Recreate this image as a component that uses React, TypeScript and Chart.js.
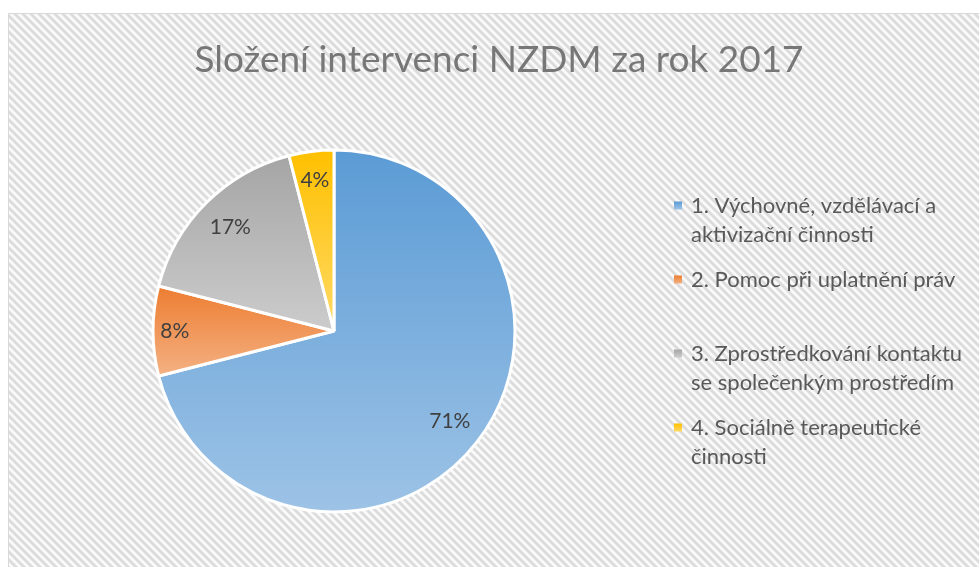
import React, { useEffect, useRef } from "react";
import { Chart, registerables } from "chart.js";

Chart.register(...registerables);

const TITLE = "Složení intervenci NZDM za rok 2017";
const categories: string[][] = [
  ["1. Výchovné, vzdělávací a", "aktivizační činnosti"],
  ["2. Pomoc při uplatnění práv"],
  ["3. Zprostředkování kontaktu", "se společenkým prostředím"],
  ["4. Sociálně terapeutické", "činnosti"],
];
const values: number[] = [71, 8, 17, 4];
const percentLabels: string[] = ["71%", "8%", "17%", "4%"];

const TOP_COLORS = ["#5b9bd5", "#ed7d31", "#a5a5a5", "#ffc000"];
const BOTTOM_COLORS = ["#9dc3e6", "#f4b183", "#cccccc", "#ffd966"];
const LABEL_RADIUS = [0.81, 0.88, 0.81, 0.84];
const FONT = "Lato, 'Open Sans', sans-serif";

function sliceGradient(c: any) {
  const chart = c.chart;
  const i = c.dataIndex;
  const area = chart.chartArea;
  if (!area || i === undefined) return TOP_COLORS[i ?? 0];
  const cx = (area.left + area.right) / 2;
  const cy = (area.top + area.bottom) / 2;
  const R = Math.min(area.width, area.height) / 2;
  const total = values.reduce((s, v) => s + v, 0);
  let a0 = -Math.PI / 2;
  for (let j = 0; j < i; j++) a0 += (values[j] / total) * Math.PI * 2;
  const a1 = a0 + (values[i] / total) * Math.PI * 2;
  let ymin = cy;
  let ymax = cy;
  for (let k = 0; k <= 90; k++) {
    const a = a0 + ((a1 - a0) * k) / 90;
    const y = cy + R * Math.sin(a);
    ymin = Math.min(ymin, y);
    ymax = Math.max(ymax, y);
  }
  const g = chart.ctx.createLinearGradient(0, ymin, 0, ymax);
  g.addColorStop(0, TOP_COLORS[i]);
  g.addColorStop(1, BOTTOM_COLORS[i]);
  return g;
}

function makeHatch(ctx: CanvasRenderingContext2D) {
  const c = document.createElement("canvas");
  c.width = 8;
  c.height = 8;
  const p = c.getContext("2d")!;
  const img = p.createImageData(8, 8);
  for (let y = 0; y < 8; y++) {
    for (let x = 0; x < 8; x++) {
      const d = (((x - y) % 8) + 8) % 8;
      const v = d < 3 ? 0xdc : d === 3 ? 0xea : d === 7 ? 0xea : 0xfa;
      const o = (y * 8 + x) * 4;
      img.data[o] = v;
      img.data[o + 1] = v;
      img.data[o + 2] = v;
      img.data[o + 3] = 255;
    }
  }
  p.putImageData(img, 0, 0);
  return ctx.createPattern(c, "repeat");
}

const backgroundPlugin = {
  id: "bgHatch",
  beforeDraw(chart: any) {
    const { ctx, width, height } = chart;
    ctx.save();
    ctx.fillStyle = "#ffffff";
    ctx.fillRect(0, 0, width, height);
    const pat = makeHatch(ctx);
    if (pat) ctx.fillStyle = pat;
    ctx.fillRect(8, 13, width - 8, height - 13);
    ctx.strokeStyle = "#d9d9d9";
    ctx.lineWidth = 1;
    ctx.beginPath();
    ctx.moveTo(8.5, height);
    ctx.lineTo(8.5, 13.5);
    ctx.lineTo(width, 13.5);
    ctx.stroke();
    ctx.restore();
  },
};

const titlePlugin = {
  id: "customTitle",
  afterDraw(chart: any) {
    const ctx = chart.ctx;
    ctx.save();
    ctx.font = `400 37px ${FONT}`;
    ctx.fillStyle = "#777777";
    ctx.textAlign = "center";
    ctx.textBaseline = "alphabetic";
    ctx.fillText(TITLE, 499, 72);
    ctx.restore();
  },
};

const labelsPlugin = {
  id: "pctLabels",
  afterDatasetsDraw(chart: any) {
    const ctx = chart.ctx;
    const meta = chart.getDatasetMeta(0);
    ctx.save();
    ctx.font = `21px ${FONT}`;
    ctx.fillStyle = "#404040";
    ctx.textAlign = "center";
    ctx.textBaseline = "middle";
    meta.data.forEach((arc: any, i: number) => {
      const mid = (arc.startAngle + arc.endAngle) / 2;
      const r = arc.outerRadius * LABEL_RADIUS[i];
      ctx.fillText(percentLabels[i], arc.x + r * Math.cos(mid), arc.y + r * Math.sin(mid));
    });
    ctx.restore();
  },
};

const legendPlugin = {
  id: "customLegend",
  afterDraw(chart: any) {
    const ctx = chart.ctx;
    ctx.save();
    ctx.font = `22px ${FONT}`;
    ctx.textAlign = "left";
    ctx.textBaseline = "alphabetic";
    categories.forEach((lines, i) => {
      const base = 213 + i * 74;
      const mg = ctx.createLinearGradient(0, base - 11.5, 0, base - 3.5);
      mg.addColorStop(0, TOP_COLORS[i]);
      mg.addColorStop(1, BOTTOM_COLORS[i]);
      ctx.fillStyle = mg;
      ctx.fillRect(674, base - 11.5, 8, 8);
      ctx.fillStyle = "#595959";
      lines.forEach((t, k) => ctx.fillText(t, 691, base + k * 28.5));
    });
    ctx.restore();
  },
};

export default function App() {
  const ref = useRef<HTMLCanvasElement>(null);
  useEffect(() => {
    document.body.style.margin = "0";
    const chart = new Chart(ref.current!, {
      type: "pie",
      data: {
        labels: categories,
        datasets: [
          {
            data: values,
            backgroundColor: sliceGradient as any,
            borderColor: "#ffffff",
            borderWidth: 3,
          },
        ],
      },
      options: {
        responsive: false,
        animation: false,
        radius: 181,
        layout: { padding: { left: 153, right: 464, top: 150, bottom: 55 } },
        plugins: {
          legend: { display: false },
          title: { display: false },
          tooltip: { enabled: false },
        },
      } as any,
      plugins: [backgroundPlugin, titlePlugin, labelsPlugin, legendPlugin],
    });
    return () => chart.destroy();
  }, []);
  return (
    <div style={{ position: "absolute", left: 0, top: 0, width: 979, height: 567 }}>
      <canvas ref={ref} width={979} height={567} style={{ display: "block" }} />
    </div>
  );
}
